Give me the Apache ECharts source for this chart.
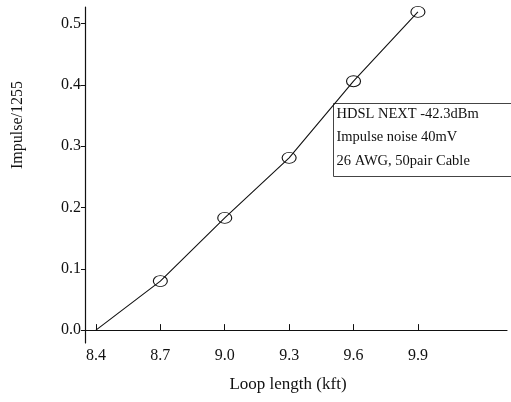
<!DOCTYPE html>
<html><head><meta charset="utf-8">
<script src="https://cdn.jsdelivr.net/npm/echarts@6/dist/echarts.min.js"></script>
<style>html,body{margin:0;padding:0;background:#fff}#c{width:511px;height:402px}</style>
</head><body><div id="c"></div>
<script>
const loopLength = [8.4, 8.7, 9.0, 9.3, 9.6, 9.9];
const impulse = [0.0, 0.08, 0.183, 0.281, 0.406, 0.519];
const markerPoints = [false, true, true, true, true, true];
const xTicks = [8.4, 8.7, 9.0, 9.3, 9.6, 9.9];
const yTicks = [0.0, 0.1, 0.2, 0.3, 0.4, 0.5];
const noteLines = ['HDSL NEXT -42.3dBm', 'Impulse noise 40mV', '26 AWG, 50pair Cable'];

const font = '"Liberation Serif", "DejaVu Serif", serif';
const chart = echarts.init(document.getElementById('c'), null, {renderer: 'canvas'});
const data = loopLength.map((x, i) => ({
  value: [x, impulse[i]],
  symbol: markerPoints[i] ? 'circle' : 'none'
}));
chart.setOption({
  animation: false,
  backgroundColor: '#fff',
  grid: {left: 85, right: 4, top: 7, bottom: 59},
  xAxis: {
    type: 'value', min: 8.349, max: 10.315,
    name: 'Loop length (kft)', nameLocation: 'middle', nameGap: 33,
    nameTextStyle: {fontFamily: font, fontSize: 17, color: '#111', padding: [0, 16, 0, 0]},
    axisLine: {lineStyle: {color: '#111', width: 1.2}},
    axisTick: {show: true, inside: true, length: 6, customValues: xTicks, lineStyle: {color: '#111'}},
    axisLabel: {customValues: xTicks, formatter: v => v.toFixed(1), fontFamily: font, fontSize: 16, color: '#111', margin: 5},
    splitLine: {show: false}
  },
  yAxis: {
    type: 'value', min: -0.021, max: 0.527,
    name: 'Impulse/1255', nameLocation: 'middle', nameGap: 59,
    nameTextStyle: {fontFamily: font, fontSize: 16, color: '#111', padding: [0, 0, 0, 100]},
    axisLine: {show: true, lineStyle: {color: '#111', width: 1.2}},
    axisTick: {show: true, inside: false, length: 4, customValues: yTicks, lineStyle: {color: '#111'}},
    axisLabel: {customValues: yTicks, formatter: v => v.toFixed(1), fontFamily: font, fontSize: 16, color: '#111', margin: 4},
    splitLine: {show: false}
  },
  series: [{
    type: 'line',
    data: data,
    symbolSize: [14, 11],
    itemStyle: {color: 'rgba(0,0,0,0)', borderColor: '#111', borderWidth: 1},
    lineStyle: {color: '#111', width: 1.1},
    showAllSymbol: true
  }],
  graphic: [{
    type: 'group', left: 333, top: 103,
    children: [
      {type: 'rect', shape: {x: 0, y: 0, width: 190, height: 73}, style: {fill: '#fff', stroke: '#444', lineWidth: 1}},
      ...noteLines.map((t, i) => ({
        type: 'text', x: 3, y: 3 + i * 23.5,
        style: {text: t, font: '14.5px ' + font, fill: '#111'}
      }))
    ]
  }]
});
</script></body></html>
